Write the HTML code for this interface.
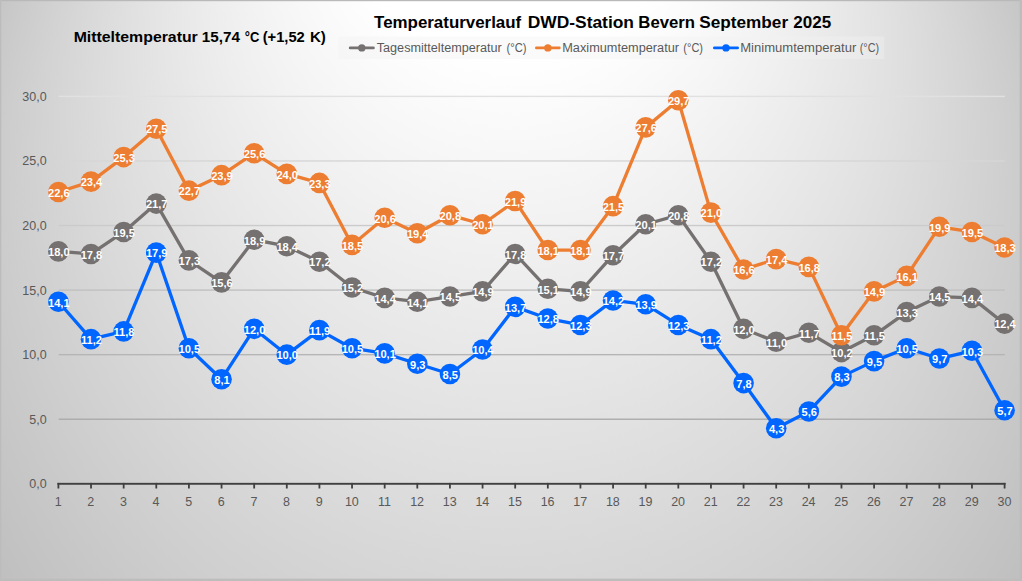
<!DOCTYPE html>
<html><head><meta charset="utf-8"><title>Temperaturverlauf</title>
<style>html,body{margin:0;padding:0;background:#c4c4c4;}body{width:1022px;height:581px;overflow:hidden;}svg{display:block;}text{font-family:"Liberation Sans",sans-serif;}</style></head><body>
<svg width="1022" height="581" viewBox="0 0 1022 581">
<defs>
<radialGradient id="bg" gradientUnits="userSpaceOnUse" cx="0" cy="0.186" r="1.2" fx="0" fy="-0.93" gradientTransform="translate(511 235.9) scale(568.8 599)">
<stop offset="0" stop-color="#ffffff"/><stop offset="0.2717" stop-color="#ffffff"/><stop offset="0.8333" stop-color="#c3c3c3"/><stop offset="0.88" stop-color="#bebebe"/><stop offset="1" stop-color="#bebebe"/></radialGradient>
<linearGradient id="gl" gradientUnits="userSpaceOnUse" x1="0" y1="96" x2="0" y2="483"><stop offset="0" stop-color="#e1e1e1"/><stop offset="1" stop-color="#a0a0a0"/></linearGradient>
</defs>
<rect x="0" y="0" width="1022" height="581" fill="url(#bg)"/>
<rect x="0" y="0" width="1022" height="1.2" fill="#b9b9b9"/>
<rect x="0" y="0" width="1.3" height="581" fill="#bcbcbc"/>
<rect x="1019.6" y="0" width="2.4" height="581" fill="#bdbdbd"/>
<rect x="0" y="578.6" width="1022" height="2.4" fill="#bdbdbd"/>
<rect x="338.7" y="36.5" width="545.5" height="22.5" fill="#f2f2f2" fill-opacity="0.39"/>
<rect x="58.7" y="418.53" width="946.2" height="1.4" fill="url(#gl)"/>
<rect x="58.7" y="353.97" width="946.2" height="1.4" fill="url(#gl)"/>
<rect x="58.7" y="289.40" width="946.2" height="1.4" fill="url(#gl)"/>
<rect x="58.7" y="224.83" width="946.2" height="1.4" fill="url(#gl)"/>
<rect x="58.7" y="160.27" width="946.2" height="1.4" fill="url(#gl)"/>
<rect x="58.7" y="95.70" width="946.2" height="1.4" fill="url(#gl)"/>
<rect x="57.45" y="482.85" width="948.10" height="1.9" fill="#404040"/>
<rect x="57.50" y="482.90" width="1.8" height="5.6" fill="#404040"/>
<rect x="90.13" y="482.90" width="1.8" height="5.6" fill="#404040"/>
<rect x="122.76" y="482.90" width="1.8" height="5.6" fill="#404040"/>
<rect x="155.38" y="482.90" width="1.8" height="5.6" fill="#404040"/>
<rect x="188.01" y="482.90" width="1.8" height="5.6" fill="#404040"/>
<rect x="220.64" y="482.90" width="1.8" height="5.6" fill="#404040"/>
<rect x="253.27" y="482.90" width="1.8" height="5.6" fill="#404040"/>
<rect x="285.89" y="482.90" width="1.8" height="5.6" fill="#404040"/>
<rect x="318.52" y="482.90" width="1.8" height="5.6" fill="#404040"/>
<rect x="351.15" y="482.90" width="1.8" height="5.6" fill="#404040"/>
<rect x="383.78" y="482.90" width="1.8" height="5.6" fill="#404040"/>
<rect x="416.40" y="482.90" width="1.8" height="5.6" fill="#404040"/>
<rect x="449.03" y="482.90" width="1.8" height="5.6" fill="#404040"/>
<rect x="481.66" y="482.90" width="1.8" height="5.6" fill="#404040"/>
<rect x="514.29" y="482.90" width="1.8" height="5.6" fill="#404040"/>
<rect x="546.91" y="482.90" width="1.8" height="5.6" fill="#404040"/>
<rect x="579.54" y="482.90" width="1.8" height="5.6" fill="#404040"/>
<rect x="612.17" y="482.90" width="1.8" height="5.6" fill="#404040"/>
<rect x="644.80" y="482.90" width="1.8" height="5.6" fill="#404040"/>
<rect x="677.42" y="482.90" width="1.8" height="5.6" fill="#404040"/>
<rect x="710.05" y="482.90" width="1.8" height="5.6" fill="#404040"/>
<rect x="742.68" y="482.90" width="1.8" height="5.6" fill="#404040"/>
<rect x="775.31" y="482.90" width="1.8" height="5.6" fill="#404040"/>
<rect x="807.93" y="482.90" width="1.8" height="5.6" fill="#404040"/>
<rect x="840.56" y="482.90" width="1.8" height="5.6" fill="#404040"/>
<rect x="873.19" y="482.90" width="1.8" height="5.6" fill="#404040"/>
<rect x="905.82" y="482.90" width="1.8" height="5.6" fill="#404040"/>
<rect x="938.44" y="482.90" width="1.8" height="5.6" fill="#404040"/>
<rect x="971.07" y="482.90" width="1.8" height="5.6" fill="#404040"/>
<rect x="1003.70" y="482.90" width="1.8" height="5.6" fill="#404040"/>
<text x="58.20" y="505.5" font-size="12.5" fill="#595959" text-anchor="middle">1</text>
<text x="90.83" y="505.5" font-size="12.5" fill="#595959" text-anchor="middle">2</text>
<text x="123.46" y="505.5" font-size="12.5" fill="#595959" text-anchor="middle">3</text>
<text x="156.08" y="505.5" font-size="12.5" fill="#595959" text-anchor="middle">4</text>
<text x="188.71" y="505.5" font-size="12.5" fill="#595959" text-anchor="middle">5</text>
<text x="221.34" y="505.5" font-size="12.5" fill="#595959" text-anchor="middle">6</text>
<text x="253.97" y="505.5" font-size="12.5" fill="#595959" text-anchor="middle">7</text>
<text x="286.59" y="505.5" font-size="12.5" fill="#595959" text-anchor="middle">8</text>
<text x="319.22" y="505.5" font-size="12.5" fill="#595959" text-anchor="middle">9</text>
<text x="351.85" y="505.5" font-size="12.5" fill="#595959" text-anchor="middle">10</text>
<text x="384.48" y="505.5" font-size="12.5" fill="#595959" text-anchor="middle">11</text>
<text x="417.10" y="505.5" font-size="12.5" fill="#595959" text-anchor="middle">12</text>
<text x="449.73" y="505.5" font-size="12.5" fill="#595959" text-anchor="middle">13</text>
<text x="482.36" y="505.5" font-size="12.5" fill="#595959" text-anchor="middle">14</text>
<text x="514.99" y="505.5" font-size="12.5" fill="#595959" text-anchor="middle">15</text>
<text x="547.61" y="505.5" font-size="12.5" fill="#595959" text-anchor="middle">16</text>
<text x="580.24" y="505.5" font-size="12.5" fill="#595959" text-anchor="middle">17</text>
<text x="612.87" y="505.5" font-size="12.5" fill="#595959" text-anchor="middle">18</text>
<text x="645.50" y="505.5" font-size="12.5" fill="#595959" text-anchor="middle">19</text>
<text x="678.12" y="505.5" font-size="12.5" fill="#595959" text-anchor="middle">20</text>
<text x="710.75" y="505.5" font-size="12.5" fill="#595959" text-anchor="middle">21</text>
<text x="743.38" y="505.5" font-size="12.5" fill="#595959" text-anchor="middle">22</text>
<text x="776.01" y="505.5" font-size="12.5" fill="#595959" text-anchor="middle">23</text>
<text x="808.63" y="505.5" font-size="12.5" fill="#595959" text-anchor="middle">24</text>
<text x="841.26" y="505.5" font-size="12.5" fill="#595959" text-anchor="middle">25</text>
<text x="873.89" y="505.5" font-size="12.5" fill="#595959" text-anchor="middle">26</text>
<text x="906.52" y="505.5" font-size="12.5" fill="#595959" text-anchor="middle">27</text>
<text x="939.14" y="505.5" font-size="12.5" fill="#595959" text-anchor="middle">28</text>
<text x="971.77" y="505.5" font-size="12.5" fill="#595959" text-anchor="middle">29</text>
<text x="1004.40" y="505.5" font-size="12.5" fill="#595959" text-anchor="middle">30</text>
<text x="46.6" y="488.20" font-size="12.5" fill="#595959" text-anchor="end">0,0</text>
<text x="46.6" y="423.63" font-size="12.5" fill="#595959" text-anchor="end">5,0</text>
<text x="46.6" y="359.07" font-size="12.5" fill="#595959" text-anchor="end">10,0</text>
<text x="46.6" y="294.50" font-size="12.5" fill="#595959" text-anchor="end">15,0</text>
<text x="46.6" y="229.93" font-size="12.5" fill="#595959" text-anchor="end">20,0</text>
<text x="46.6" y="165.37" font-size="12.5" fill="#595959" text-anchor="end">25,0</text>
<text x="46.6" y="100.80" font-size="12.5" fill="#595959" text-anchor="end">30,0</text>
<polyline points="58.40,251.36 91.03,253.94 123.66,231.99 156.28,203.58 188.91,260.40 221.54,282.35 254.17,239.74 286.79,246.19 319.42,261.69 352.05,287.52 384.68,297.85 417.30,301.72 449.93,296.56 482.56,291.39 515.19,253.94 547.81,288.81 580.44,291.39 613.07,255.23 645.70,224.24 678.32,215.20 710.95,261.69 743.58,328.84 776.21,341.75 808.83,332.71 841.46,352.08 874.09,335.30 906.72,312.05 939.34,296.56 971.97,297.85 1004.60,323.67" fill="none" stroke="#767171" stroke-width="3.3" stroke-linejoin="round" stroke-linecap="round"/>
<circle cx="58.40" cy="251.36" r="10.3" fill="#767171"/>
<circle cx="91.03" cy="253.94" r="10.3" fill="#767171"/>
<circle cx="123.66" cy="231.99" r="10.3" fill="#767171"/>
<circle cx="156.28" cy="203.58" r="10.3" fill="#767171"/>
<circle cx="188.91" cy="260.40" r="10.3" fill="#767171"/>
<circle cx="221.54" cy="282.35" r="10.3" fill="#767171"/>
<circle cx="254.17" cy="239.74" r="10.3" fill="#767171"/>
<circle cx="286.79" cy="246.19" r="10.3" fill="#767171"/>
<circle cx="319.42" cy="261.69" r="10.3" fill="#767171"/>
<circle cx="352.05" cy="287.52" r="10.3" fill="#767171"/>
<circle cx="384.68" cy="297.85" r="10.3" fill="#767171"/>
<circle cx="417.30" cy="301.72" r="10.3" fill="#767171"/>
<circle cx="449.93" cy="296.56" r="10.3" fill="#767171"/>
<circle cx="482.56" cy="291.39" r="10.3" fill="#767171"/>
<circle cx="515.19" cy="253.94" r="10.3" fill="#767171"/>
<circle cx="547.81" cy="288.81" r="10.3" fill="#767171"/>
<circle cx="580.44" cy="291.39" r="10.3" fill="#767171"/>
<circle cx="613.07" cy="255.23" r="10.3" fill="#767171"/>
<circle cx="645.70" cy="224.24" r="10.3" fill="#767171"/>
<circle cx="678.32" cy="215.20" r="10.3" fill="#767171"/>
<circle cx="710.95" cy="261.69" r="10.3" fill="#767171"/>
<circle cx="743.58" cy="328.84" r="10.3" fill="#767171"/>
<circle cx="776.21" cy="341.75" r="10.3" fill="#767171"/>
<circle cx="808.83" cy="332.71" r="10.3" fill="#767171"/>
<circle cx="841.46" cy="352.08" r="10.3" fill="#767171"/>
<circle cx="874.09" cy="335.30" r="10.3" fill="#767171"/>
<circle cx="906.72" cy="312.05" r="10.3" fill="#767171"/>
<circle cx="939.34" cy="296.56" r="10.3" fill="#767171"/>
<circle cx="971.97" cy="297.85" r="10.3" fill="#767171"/>
<circle cx="1004.60" cy="323.67" r="10.3" fill="#767171"/>
<text x="58.80" y="256.16" font-size="11.1" font-weight="bold" fill="#ffffff" text-anchor="middle">18,0</text>
<text x="91.43" y="258.74" font-size="11.1" font-weight="bold" fill="#ffffff" text-anchor="middle">17,8</text>
<text x="124.06" y="236.79" font-size="11.1" font-weight="bold" fill="#ffffff" text-anchor="middle">19,5</text>
<text x="156.68" y="208.38" font-size="11.1" font-weight="bold" fill="#ffffff" text-anchor="middle">21,7</text>
<text x="189.31" y="265.20" font-size="11.1" font-weight="bold" fill="#ffffff" text-anchor="middle">17,3</text>
<text x="221.94" y="287.15" font-size="11.1" font-weight="bold" fill="#ffffff" text-anchor="middle">15,6</text>
<text x="254.57" y="244.54" font-size="11.1" font-weight="bold" fill="#ffffff" text-anchor="middle">18,9</text>
<text x="287.19" y="250.99" font-size="11.1" font-weight="bold" fill="#ffffff" text-anchor="middle">18,4</text>
<text x="319.82" y="266.49" font-size="11.1" font-weight="bold" fill="#ffffff" text-anchor="middle">17,2</text>
<text x="352.45" y="292.32" font-size="11.1" font-weight="bold" fill="#ffffff" text-anchor="middle">15,2</text>
<text x="385.08" y="302.65" font-size="11.1" font-weight="bold" fill="#ffffff" text-anchor="middle">14,4</text>
<text x="417.70" y="306.52" font-size="11.1" font-weight="bold" fill="#ffffff" text-anchor="middle">14,1</text>
<text x="450.33" y="301.36" font-size="11.1" font-weight="bold" fill="#ffffff" text-anchor="middle">14,5</text>
<text x="482.96" y="296.19" font-size="11.1" font-weight="bold" fill="#ffffff" text-anchor="middle">14,9</text>
<text x="515.59" y="258.74" font-size="11.1" font-weight="bold" fill="#ffffff" text-anchor="middle">17,8</text>
<text x="548.21" y="293.61" font-size="11.1" font-weight="bold" fill="#ffffff" text-anchor="middle">15,1</text>
<text x="580.84" y="296.19" font-size="11.1" font-weight="bold" fill="#ffffff" text-anchor="middle">14,9</text>
<text x="613.47" y="260.03" font-size="11.1" font-weight="bold" fill="#ffffff" text-anchor="middle">17,7</text>
<text x="646.10" y="229.04" font-size="11.1" font-weight="bold" fill="#ffffff" text-anchor="middle">20,1</text>
<text x="678.72" y="220.00" font-size="11.1" font-weight="bold" fill="#ffffff" text-anchor="middle">20,8</text>
<text x="711.35" y="266.49" font-size="11.1" font-weight="bold" fill="#ffffff" text-anchor="middle">17,2</text>
<text x="743.98" y="333.64" font-size="11.1" font-weight="bold" fill="#ffffff" text-anchor="middle">12,0</text>
<text x="776.61" y="346.55" font-size="11.1" font-weight="bold" fill="#ffffff" text-anchor="middle">11,0</text>
<text x="809.23" y="337.51" font-size="11.1" font-weight="bold" fill="#ffffff" text-anchor="middle">11,7</text>
<text x="841.86" y="356.88" font-size="11.1" font-weight="bold" fill="#ffffff" text-anchor="middle">10,2</text>
<text x="874.49" y="340.10" font-size="11.1" font-weight="bold" fill="#ffffff" text-anchor="middle">11,5</text>
<text x="907.12" y="316.85" font-size="11.1" font-weight="bold" fill="#ffffff" text-anchor="middle">13,3</text>
<text x="939.74" y="301.36" font-size="11.1" font-weight="bold" fill="#ffffff" text-anchor="middle">14,5</text>
<text x="972.37" y="302.65" font-size="11.1" font-weight="bold" fill="#ffffff" text-anchor="middle">14,4</text>
<text x="1005.00" y="328.47" font-size="11.1" font-weight="bold" fill="#ffffff" text-anchor="middle">12,4</text>
<polyline points="58.40,191.96 91.03,181.63 123.66,157.09 156.28,128.68 188.91,190.67 221.54,175.17 254.17,153.22 286.79,173.88 319.42,182.92 352.05,244.90 384.68,217.79 417.30,233.28 449.93,215.20 482.56,224.24 515.19,201.00 547.81,250.07 580.44,250.07 613.07,206.16 645.70,127.39 678.32,100.27 710.95,212.62 743.58,269.44 776.21,259.11 808.83,266.86 841.46,335.30 874.09,291.39 906.72,275.90 939.34,226.82 971.97,231.99 1004.60,247.49" fill="none" stroke="#ed7d31" stroke-width="3.3" stroke-linejoin="round" stroke-linecap="round"/>
<circle cx="58.40" cy="191.96" r="10.3" fill="#ed7d31"/>
<circle cx="91.03" cy="181.63" r="10.3" fill="#ed7d31"/>
<circle cx="123.66" cy="157.09" r="10.3" fill="#ed7d31"/>
<circle cx="156.28" cy="128.68" r="10.3" fill="#ed7d31"/>
<circle cx="188.91" cy="190.67" r="10.3" fill="#ed7d31"/>
<circle cx="221.54" cy="175.17" r="10.3" fill="#ed7d31"/>
<circle cx="254.17" cy="153.22" r="10.3" fill="#ed7d31"/>
<circle cx="286.79" cy="173.88" r="10.3" fill="#ed7d31"/>
<circle cx="319.42" cy="182.92" r="10.3" fill="#ed7d31"/>
<circle cx="352.05" cy="244.90" r="10.3" fill="#ed7d31"/>
<circle cx="384.68" cy="217.79" r="10.3" fill="#ed7d31"/>
<circle cx="417.30" cy="233.28" r="10.3" fill="#ed7d31"/>
<circle cx="449.93" cy="215.20" r="10.3" fill="#ed7d31"/>
<circle cx="482.56" cy="224.24" r="10.3" fill="#ed7d31"/>
<circle cx="515.19" cy="201.00" r="10.3" fill="#ed7d31"/>
<circle cx="547.81" cy="250.07" r="10.3" fill="#ed7d31"/>
<circle cx="580.44" cy="250.07" r="10.3" fill="#ed7d31"/>
<circle cx="613.07" cy="206.16" r="10.3" fill="#ed7d31"/>
<circle cx="645.70" cy="127.39" r="10.3" fill="#ed7d31"/>
<circle cx="678.32" cy="100.27" r="10.3" fill="#ed7d31"/>
<circle cx="710.95" cy="212.62" r="10.3" fill="#ed7d31"/>
<circle cx="743.58" cy="269.44" r="10.3" fill="#ed7d31"/>
<circle cx="776.21" cy="259.11" r="10.3" fill="#ed7d31"/>
<circle cx="808.83" cy="266.86" r="10.3" fill="#ed7d31"/>
<circle cx="841.46" cy="335.30" r="10.3" fill="#ed7d31"/>
<circle cx="874.09" cy="291.39" r="10.3" fill="#ed7d31"/>
<circle cx="906.72" cy="275.90" r="10.3" fill="#ed7d31"/>
<circle cx="939.34" cy="226.82" r="10.3" fill="#ed7d31"/>
<circle cx="971.97" cy="231.99" r="10.3" fill="#ed7d31"/>
<circle cx="1004.60" cy="247.49" r="10.3" fill="#ed7d31"/>
<text x="58.80" y="196.76" font-size="11.1" font-weight="bold" fill="#ffffff" text-anchor="middle">22,6</text>
<text x="91.43" y="186.43" font-size="11.1" font-weight="bold" fill="#ffffff" text-anchor="middle">23,4</text>
<text x="124.06" y="161.89" font-size="11.1" font-weight="bold" fill="#ffffff" text-anchor="middle">25,3</text>
<text x="156.68" y="133.48" font-size="11.1" font-weight="bold" fill="#ffffff" text-anchor="middle">27,5</text>
<text x="189.31" y="195.47" font-size="11.1" font-weight="bold" fill="#ffffff" text-anchor="middle">22,7</text>
<text x="221.94" y="179.97" font-size="11.1" font-weight="bold" fill="#ffffff" text-anchor="middle">23,9</text>
<text x="254.57" y="158.02" font-size="11.1" font-weight="bold" fill="#ffffff" text-anchor="middle">25,6</text>
<text x="287.19" y="178.68" font-size="11.1" font-weight="bold" fill="#ffffff" text-anchor="middle">24,0</text>
<text x="319.82" y="187.72" font-size="11.1" font-weight="bold" fill="#ffffff" text-anchor="middle">23,3</text>
<text x="352.45" y="249.70" font-size="11.1" font-weight="bold" fill="#ffffff" text-anchor="middle">18,5</text>
<text x="385.08" y="222.59" font-size="11.1" font-weight="bold" fill="#ffffff" text-anchor="middle">20,6</text>
<text x="417.70" y="238.08" font-size="11.1" font-weight="bold" fill="#ffffff" text-anchor="middle">19,4</text>
<text x="450.33" y="220.00" font-size="11.1" font-weight="bold" fill="#ffffff" text-anchor="middle">20,8</text>
<text x="482.96" y="229.04" font-size="11.1" font-weight="bold" fill="#ffffff" text-anchor="middle">20,1</text>
<text x="515.59" y="205.80" font-size="11.1" font-weight="bold" fill="#ffffff" text-anchor="middle">21,9</text>
<text x="548.21" y="254.87" font-size="11.1" font-weight="bold" fill="#ffffff" text-anchor="middle">18,1</text>
<text x="580.84" y="254.87" font-size="11.1" font-weight="bold" fill="#ffffff" text-anchor="middle">18,1</text>
<text x="613.47" y="210.96" font-size="11.1" font-weight="bold" fill="#ffffff" text-anchor="middle">21,5</text>
<text x="646.10" y="132.19" font-size="11.1" font-weight="bold" fill="#ffffff" text-anchor="middle">27,6</text>
<text x="678.72" y="105.07" font-size="11.1" font-weight="bold" fill="#ffffff" text-anchor="middle">29,7</text>
<text x="711.35" y="217.42" font-size="11.1" font-weight="bold" fill="#ffffff" text-anchor="middle">21,0</text>
<text x="743.98" y="274.24" font-size="11.1" font-weight="bold" fill="#ffffff" text-anchor="middle">16,6</text>
<text x="776.61" y="263.91" font-size="11.1" font-weight="bold" fill="#ffffff" text-anchor="middle">17,4</text>
<text x="809.23" y="271.66" font-size="11.1" font-weight="bold" fill="#ffffff" text-anchor="middle">16,8</text>
<text x="841.86" y="340.10" font-size="11.1" font-weight="bold" fill="#ffffff" text-anchor="middle">11,5</text>
<text x="874.49" y="296.19" font-size="11.1" font-weight="bold" fill="#ffffff" text-anchor="middle">14,9</text>
<text x="907.12" y="280.70" font-size="11.1" font-weight="bold" fill="#ffffff" text-anchor="middle">16,1</text>
<text x="939.74" y="231.62" font-size="11.1" font-weight="bold" fill="#ffffff" text-anchor="middle">19,9</text>
<text x="972.37" y="236.79" font-size="11.1" font-weight="bold" fill="#ffffff" text-anchor="middle">19,5</text>
<text x="1005.00" y="252.29" font-size="11.1" font-weight="bold" fill="#ffffff" text-anchor="middle">18,3</text>
<polyline points="58.40,301.72 91.03,339.17 123.66,331.42 156.28,252.65 188.91,348.21 221.54,379.20 254.17,328.84 286.79,354.67 319.42,330.13 352.05,348.21 384.68,353.38 417.30,363.71 449.93,374.04 482.56,349.50 515.19,306.89 547.81,318.51 580.44,324.97 613.07,300.43 645.70,304.30 678.32,324.97 710.95,339.17 743.58,383.08 776.21,428.27 808.83,411.49 841.46,376.62 874.09,361.12 906.72,348.21 939.34,358.54 971.97,350.79 1004.60,410.19" fill="none" stroke="#0066ff" stroke-width="3.3" stroke-linejoin="round" stroke-linecap="round"/>
<circle cx="58.40" cy="301.72" r="10.3" fill="#0066ff"/>
<circle cx="91.03" cy="339.17" r="10.3" fill="#0066ff"/>
<circle cx="123.66" cy="331.42" r="10.3" fill="#0066ff"/>
<circle cx="156.28" cy="252.65" r="10.3" fill="#0066ff"/>
<circle cx="188.91" cy="348.21" r="10.3" fill="#0066ff"/>
<circle cx="221.54" cy="379.20" r="10.3" fill="#0066ff"/>
<circle cx="254.17" cy="328.84" r="10.3" fill="#0066ff"/>
<circle cx="286.79" cy="354.67" r="10.3" fill="#0066ff"/>
<circle cx="319.42" cy="330.13" r="10.3" fill="#0066ff"/>
<circle cx="352.05" cy="348.21" r="10.3" fill="#0066ff"/>
<circle cx="384.68" cy="353.38" r="10.3" fill="#0066ff"/>
<circle cx="417.30" cy="363.71" r="10.3" fill="#0066ff"/>
<circle cx="449.93" cy="374.04" r="10.3" fill="#0066ff"/>
<circle cx="482.56" cy="349.50" r="10.3" fill="#0066ff"/>
<circle cx="515.19" cy="306.89" r="10.3" fill="#0066ff"/>
<circle cx="547.81" cy="318.51" r="10.3" fill="#0066ff"/>
<circle cx="580.44" cy="324.97" r="10.3" fill="#0066ff"/>
<circle cx="613.07" cy="300.43" r="10.3" fill="#0066ff"/>
<circle cx="645.70" cy="304.30" r="10.3" fill="#0066ff"/>
<circle cx="678.32" cy="324.97" r="10.3" fill="#0066ff"/>
<circle cx="710.95" cy="339.17" r="10.3" fill="#0066ff"/>
<circle cx="743.58" cy="383.08" r="10.3" fill="#0066ff"/>
<circle cx="776.21" cy="428.27" r="10.3" fill="#0066ff"/>
<circle cx="808.83" cy="411.49" r="10.3" fill="#0066ff"/>
<circle cx="841.46" cy="376.62" r="10.3" fill="#0066ff"/>
<circle cx="874.09" cy="361.12" r="10.3" fill="#0066ff"/>
<circle cx="906.72" cy="348.21" r="10.3" fill="#0066ff"/>
<circle cx="939.34" cy="358.54" r="10.3" fill="#0066ff"/>
<circle cx="971.97" cy="350.79" r="10.3" fill="#0066ff"/>
<circle cx="1004.60" cy="410.19" r="10.3" fill="#0066ff"/>
<text x="58.80" y="306.52" font-size="11.1" font-weight="bold" fill="#ffffff" text-anchor="middle">14,1</text>
<text x="91.43" y="343.97" font-size="11.1" font-weight="bold" fill="#ffffff" text-anchor="middle">11,2</text>
<text x="124.06" y="336.22" font-size="11.1" font-weight="bold" fill="#ffffff" text-anchor="middle">11,8</text>
<text x="156.68" y="257.45" font-size="11.1" font-weight="bold" fill="#ffffff" text-anchor="middle">17,9</text>
<text x="189.31" y="353.01" font-size="11.1" font-weight="bold" fill="#ffffff" text-anchor="middle">10,5</text>
<text x="221.94" y="384.00" font-size="11.1" font-weight="bold" fill="#ffffff" text-anchor="middle">8,1</text>
<text x="254.57" y="333.64" font-size="11.1" font-weight="bold" fill="#ffffff" text-anchor="middle">12,0</text>
<text x="287.19" y="359.47" font-size="11.1" font-weight="bold" fill="#ffffff" text-anchor="middle">10,0</text>
<text x="319.82" y="334.93" font-size="11.1" font-weight="bold" fill="#ffffff" text-anchor="middle">11,9</text>
<text x="352.45" y="353.01" font-size="11.1" font-weight="bold" fill="#ffffff" text-anchor="middle">10,5</text>
<text x="385.08" y="358.18" font-size="11.1" font-weight="bold" fill="#ffffff" text-anchor="middle">10,1</text>
<text x="417.70" y="368.51" font-size="11.1" font-weight="bold" fill="#ffffff" text-anchor="middle">9,3</text>
<text x="450.33" y="378.84" font-size="11.1" font-weight="bold" fill="#ffffff" text-anchor="middle">8,5</text>
<text x="482.96" y="354.30" font-size="11.1" font-weight="bold" fill="#ffffff" text-anchor="middle">10,4</text>
<text x="515.59" y="311.69" font-size="11.1" font-weight="bold" fill="#ffffff" text-anchor="middle">13,7</text>
<text x="548.21" y="323.31" font-size="11.1" font-weight="bold" fill="#ffffff" text-anchor="middle">12,8</text>
<text x="580.84" y="329.77" font-size="11.1" font-weight="bold" fill="#ffffff" text-anchor="middle">12,3</text>
<text x="613.47" y="305.23" font-size="11.1" font-weight="bold" fill="#ffffff" text-anchor="middle">14,2</text>
<text x="646.10" y="309.10" font-size="11.1" font-weight="bold" fill="#ffffff" text-anchor="middle">13,9</text>
<text x="678.72" y="329.77" font-size="11.1" font-weight="bold" fill="#ffffff" text-anchor="middle">12,3</text>
<text x="711.35" y="343.97" font-size="11.1" font-weight="bold" fill="#ffffff" text-anchor="middle">11,2</text>
<text x="743.98" y="387.88" font-size="11.1" font-weight="bold" fill="#ffffff" text-anchor="middle">7,8</text>
<text x="776.61" y="433.07" font-size="11.1" font-weight="bold" fill="#ffffff" text-anchor="middle">4,3</text>
<text x="809.23" y="416.29" font-size="11.1" font-weight="bold" fill="#ffffff" text-anchor="middle">5,6</text>
<text x="841.86" y="381.42" font-size="11.1" font-weight="bold" fill="#ffffff" text-anchor="middle">8,3</text>
<text x="874.49" y="365.92" font-size="11.1" font-weight="bold" fill="#ffffff" text-anchor="middle">9,5</text>
<text x="907.12" y="353.01" font-size="11.1" font-weight="bold" fill="#ffffff" text-anchor="middle">10,5</text>
<text x="939.74" y="363.34" font-size="11.1" font-weight="bold" fill="#ffffff" text-anchor="middle">9,7</text>
<text x="972.37" y="355.59" font-size="11.1" font-weight="bold" fill="#ffffff" text-anchor="middle">10,3</text>
<text x="1005.00" y="414.99" font-size="11.1" font-weight="bold" fill="#ffffff" text-anchor="middle">5,7</text>
<text x="374.07" y="27.50" font-size="16" font-weight="bold" fill="#000" textLength="147.16" lengthAdjust="spacingAndGlyphs">Temperaturverlauf</text>
<text x="527.78" y="27.50" font-size="16" font-weight="bold" fill="#000" textLength="106.22" lengthAdjust="spacingAndGlyphs">DWD-Station</text>
<text x="638.33" y="27.50" font-size="16" font-weight="bold" fill="#000" textLength="56.62" lengthAdjust="spacingAndGlyphs">Bevern</text>
<text x="699.26" y="27.50" font-size="16" font-weight="bold" fill="#000" textLength="88.85" lengthAdjust="spacingAndGlyphs">September</text>
<text x="793.27" y="27.50" font-size="16" font-weight="bold" fill="#000" textLength="37.83" lengthAdjust="spacingAndGlyphs">2025</text>
<text x="73.67" y="41.80" font-size="14" font-weight="bold" fill="#000" textLength="124.14" lengthAdjust="spacingAndGlyphs">Mitteltemperatur</text>
<text x="201.85" y="41.80" font-size="14" font-weight="bold" fill="#000" textLength="38.19" lengthAdjust="spacingAndGlyphs">15,74</text>
<text x="244.72" y="41.80" font-size="14" font-weight="bold" fill="#000" textLength="14.50" lengthAdjust="spacingAndGlyphs">°C</text>
<text x="262.71" y="41.80" font-size="14" font-weight="bold" fill="#000" textLength="42.10" lengthAdjust="spacingAndGlyphs">(+1,52</text>
<text x="309.92" y="41.80" font-size="14" font-weight="bold" fill="#000" textLength="15.98" lengthAdjust="spacingAndGlyphs">K)</text>
<text x="376.75" y="51.90" font-size="12.5" font-weight="normal" fill="#595959" textLength="125.02" lengthAdjust="spacingAndGlyphs">Tagesmitteltemperatur</text>
<text x="506.43" y="51.90" font-size="12.5" font-weight="normal" fill="#595959" textLength="20.02" lengthAdjust="spacingAndGlyphs">(°C)</text>
<text x="562.28" y="51.90" font-size="12.5" font-weight="normal" fill="#595959" textLength="116.76" lengthAdjust="spacingAndGlyphs">Maximumtemperatur</text>
<text x="683.34" y="51.90" font-size="12.5" font-weight="normal" fill="#595959" textLength="19.70" lengthAdjust="spacingAndGlyphs">(°C)</text>
<text x="740.26" y="51.90" font-size="12.5" font-weight="normal" fill="#595959" textLength="116.02" lengthAdjust="spacingAndGlyphs">Minimumtemperatur</text>
<text x="859.75" y="51.90" font-size="12.5" font-weight="normal" fill="#595959" textLength="19.27" lengthAdjust="spacingAndGlyphs">(°C)</text>
<line x1="350.2" y1="47.9" x2="373.4" y2="47.9" stroke="#767171" stroke-width="2.8" stroke-linecap="round"/>
<circle cx="361.80" cy="47.9" r="3.7" fill="#767171"/>
<line x1="536.4" y1="47.9" x2="559.3" y2="47.9" stroke="#ed7d31" stroke-width="2.8" stroke-linecap="round"/>
<circle cx="547.85" cy="47.9" r="3.7" fill="#ed7d31"/>
<line x1="714.4" y1="47.9" x2="737.6" y2="47.9" stroke="#0066ff" stroke-width="2.8" stroke-linecap="round"/>
<circle cx="726.00" cy="47.9" r="3.7" fill="#0066ff"/>
</svg></body></html>
